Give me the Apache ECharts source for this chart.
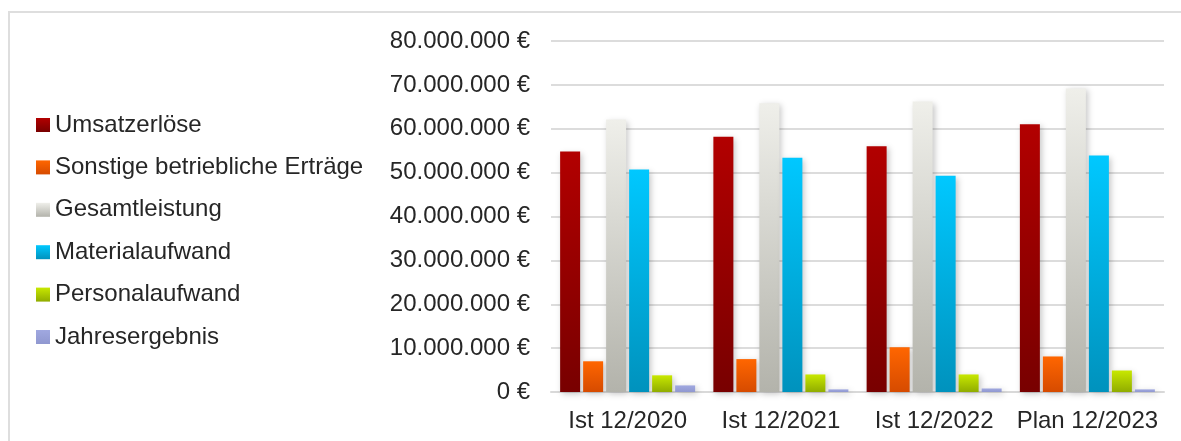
<!DOCTYPE html>
<html>
<head>
<meta charset="utf-8">
<script src="https://cdn.jsdelivr.net/npm/echarts@6/dist/echarts.min.js"></script>
<style>
	html, body { margin: 0; padding: 0; background: #fff; }
	#chart { width: 1181px; height: 441px; }
</style>
</head>
<body>
<div id="chart"></div>
<script>
var categories = ['Ist 12/2020', 'Ist 12/2021', 'Ist 12/2022', 'Plan 12/2023'];
var seriesNames = ['Umsatzerlöse', 'Sonstige betriebliche Erträge', 'Gesamtleistung', 'Materialaufwand', 'Personalaufwand', 'Jahresergebnis'];
var umsatz = [54800000, 58200000, 56000000, 61000000];
var sonstige = [7000000, 7500000, 10200000, 8100000];
var gesamt = [62100000, 65800000, 66200000, 69200000];
var material = [50700000, 53400000, 49300000, 53900000];
var personal = [3800000, 4000000, 4000000, 4900000];
var ergebnis = [1500000, 600000, 800000, 600000];
var yTicks = [0, 10000000, 20000000, 30000000, 40000000, 50000000, 60000000, 70000000, 80000000];

var values = [umsatz, sonstige, gesamt, material, personal, ergebnis];
// top / bottom colours of the gradients
var colors = [
	['#b20000', '#780000'],
	['#ff6600', '#d64b00'],
	['#efefea', '#b3b3ab'],
	['#00c8ff', '#0092bd'],
	['#c8e800', '#90ac00'],
	['#a0a8e0', '#9098d0']
];

function grad(c) {
	return new echarts.graphic.LinearGradient(0, 0, 0, 1, [
		{ offset: 0, color: c[0] },
		{ offset: 1, color: c[1] }
	]);
}

function euro(v) {
	return String(v).replace(/\B(?=(\d{3})+(?!\d))/g, '.') + ' €';
}

var myChart = echarts.init(document.getElementById('chart'));

var series = seriesNames.map(function(name, i) {
	return {
		name: name,
		type: 'bar',
		data: values[i],
		barWidth: 20,
		barGap: '15%',
		itemStyle: {
			color: grad(colors[i]),
			shadowColor: 'rgba(0, 0, 0, 0.22)',
			shadowBlur: 6,
			shadowOffsetX: 2,
			shadowOffsetY: 2
		}
	};
});

var option = {
	animation: false,
	textStyle: { fontFamily: 'Liberation Sans, Arial, sans-serif' },
	graphic: [{
		type: 'polyline',
		shape: { points: [[9, 441], [9, 12], [1181, 12]] },
		style: { stroke: '#dedede', lineWidth: 2, fill: null }
	}],
	legend: {
		orient: 'vertical',
		left: 31,
		top: 108,
		itemWidth: 14,
		itemHeight: 14,
		itemGap: 18.4,
		icon: 'rect',
		textStyle: { fontSize: 24, color: '#262626', lineHeight: 24 },
		data: seriesNames
	},
	grid: {
		left: 551,
		right: 17,
		top: 41,
		bottom: 49
	},
	xAxis: {
		type: 'category',
		data: categories,
		axisTick: { show: false },
		axisLine: { lineStyle: { color: '#d9d9d9', width: 2 } },
		axisLabel: { fontSize: 24, color: '#262626', margin: 17, interval: 0 }
	},
	yAxis: {
		type: 'value',
		min: yTicks[0],
		max: yTicks[yTicks.length - 1],
		interval: yTicks[1] - yTicks[0],
		axisLine: { show: false },
		axisTick: { show: false },
		axisLabel: {
			fontSize: 24,
			color: '#262626',
			margin: 21,
			formatter: euro
		},
		splitLine: { lineStyle: { color: '#dcdcdc', width: 2 } }
	},
	series: series
};
myChart.setOption(option);
</script>
</body>
</html>
